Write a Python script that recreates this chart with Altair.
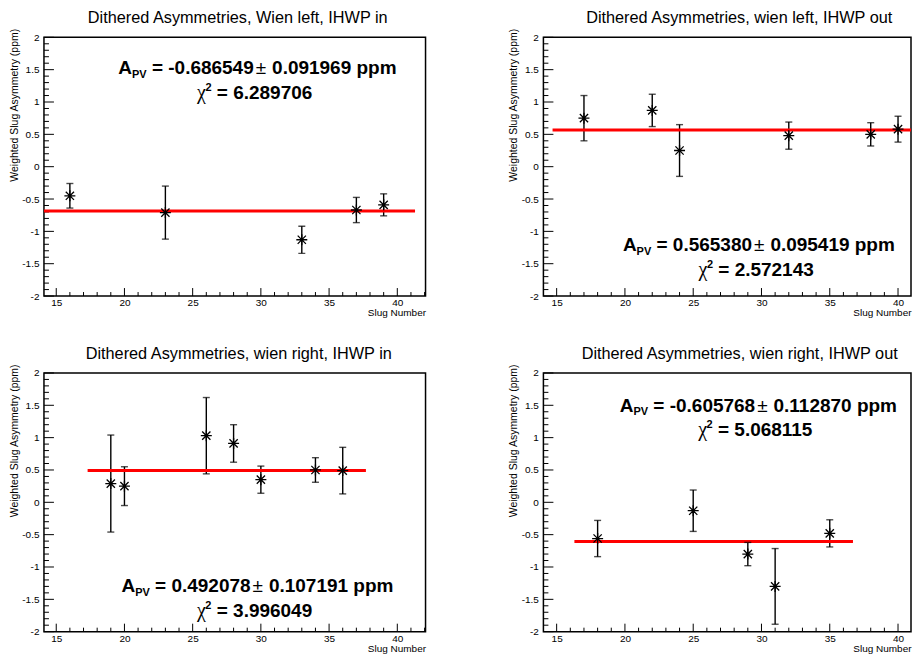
import altair as alt
import pandas as pd

# ---------------- data ----------------
TITLES = [
    "Dithered Asymmetries, Wien left, IHWP in",
    "Dithered Asymmetries, wien left, IHWP out",
    "Dithered Asymmetries, wien right, IHWP in",
    "Dithered Asymmetries, wien right, IHWP out",
]
SLUGS = [
    [16, 23, 33, 37, 39],
    [17, 22, 24, 32, 38, 40],
    [19, 20, 26, 28, 30, 34, 36],
    [18, 25, 29, 31, 35],
]
ASYM = [
    [-0.45, -0.71, -1.13, -0.67, -0.59],
    [0.75, 0.87, 0.25, 0.48, 0.50, 0.58],
    [0.29, 0.25, 1.03, 0.91, 0.35, 0.50, 0.49],
    [-0.56, -0.13, -0.80, -1.30, -0.48],
]
ERRS = [
    [0.19, 0.41, 0.21, 0.195, 0.17],
    [0.35, 0.25, 0.40, 0.21, 0.18, 0.20],
    [0.75, 0.30, 0.59, 0.29, 0.21, 0.19, 0.36],
    [0.28, 0.32, 0.18, 0.585, 0.21],
]
FIT_VALUE = [-0.686549, 0.565380, 0.492078, -0.605768]
FIT_ERROR = [0.091969, 0.095419, 0.107191, 0.112870]
CHI2 = [6.289706, 2.572143, 3.996049, 5.068115]
FIT_START = [13.7, 14.7, 17.3, 16.3]
FIT_END = [41.3, 42.3, 37.7, 36.7]

X_MAJOR = [15, 20, 25, 30, 35, 40]
X_MINOR = [16, 17, 18, 19, 21, 22, 23, 24, 26, 27, 28, 29, 31, 32, 33, 34, 36, 37, 38, 39, 41, 42]
Y_MAJOR = [-2, -1.5, -1, -0.5, 0, 0.5, 1, 1.5, 2]
Y_MINOR = [round(-2 + 0.1 * i, 1) for i in range(41) if i % 5 != 0]

X_TITLE = "Slug Number"
Y_TITLE = "Weighted Slug Asymmetry (ppm)"

# ---------------- layout / style ----------------
FONT = "Liberation Sans"
H = 259
WIDTHS = [382, 368, 382, 368]
XDOM = [[14.1, 42.07], [14.03, 40.95], [14.1, 42.07], [14.03, 40.95]]
TITLE_X = [194, 196, 195, 196.5]
# (line1 centre x, line1 baseline, line2 centre x, line2 baseline) relative to frame
ANN = [(213.7, 37.0, 211.0, 61.3), (215.7, 214.3, 213.0, 238.6),
       (213.7, 219.7, 210.9, 244.0), (215.7, 38.7, 212.7, 63.0)]
F_MAIN = 19
F_SMALL = 11

BOLD = {' ': 278, '=': 584, '-': 333, '.': 278, 'A': 722, 'P': 667, 'V': 667,
        'p': 611, 'm': 889}
for d in "0123456789":
    BOLD[d] = 556


def tw(s, size):
    return sum(BOLD[c] for c in s) * size / 1000.0


STAR = "M-1,0L1,0M0,-1L0,1M-0.75,-0.75L0.75,0.75M-0.75,0.75L0.75,-0.75"


def txt(s, x, y, size, weight="bold", font=FONT, align="left", baseline="alphabetic"):
    return alt.Chart(pd.DataFrame({"t": [s]})).mark_text(
        align=align, baseline=baseline, fontSize=size, fontWeight=weight,
        font=font, color="black"
    ).encode(text="t:N", x=alt.value(x), y=alt.value(y))


def panel(i):
    W = WIDTHS[i]
    xs = alt.Scale(domain=XDOM[i], nice=False, zero=False, clamp=True)
    ys = alt.Scale(domain=[-2, 2], nice=False, zero=False)
    xax = alt.Axis(
        values=X_MAJOR, ticks=False, domain=False, grid=False,
        labelFont=FONT, labelFontSize=10, labelColor="black", labelPadding=1.5,
        labelFlush=False, labelOverlap=False,
        title=X_TITLE, titleFont=FONT, titleFontSize=10, titleFontWeight="normal",
        titleColor="black", titleX=W, titleY=16.5, titleAlign="right",
        titleBaseline="middle")
    yax = alt.Axis(
        values=Y_MAJOR, labelExpr="'' + datum.value", ticks=False, domain=False,
        grid=False, labelFont=FONT, labelFontSize=10, labelColor="black",
        labelPadding=5, labelOverlap=False,
        title=Y_TITLE, titleFont=FONT, titleFontSize=10.5, titleFontWeight="normal",
        titleColor="black", titleAngle=270, titleX=-26.5, titleY=-9,
        titleAlign="right", titleBaseline="alphabetic")

    def X(f):
        return alt.X(f, scale=xs, axis=xax)

    def Y(f):
        return alt.Y(f, scale=ys, axis=yax)

    df = pd.DataFrame({"x": SLUGS[i], "y": ASYM[i], "e": ERRS[i]})
    base = alt.Chart(df).transform_calculate(
        lo="datum.y - datum.e", hi="datum.y + datum.e")

    xmaj = [v for v in X_MAJOR if XDOM[i][0] <= v <= XDOM[i][1]]
    xmin = [v for v in X_MINOR if XDOM[i][0] <= v <= XDOM[i][1]]

    layers = []
    layers.append(base.mark_rule(color="black", strokeWidth=1.4).encode(
        x=X("x:Q"), y=Y("lo:Q"), y2="hi:Q"))

    layers.append(alt.Chart(pd.DataFrame({"v": xmaj})).mark_rule(
        color="black", strokeWidth=1).encode(
        x=X("v:Q"), y=alt.value(H), y2=alt.value(H - 8)))
    layers.append(alt.Chart(pd.DataFrame({"v": xmin})).mark_rule(
        color="black", strokeWidth=1).encode(
        x=X("v:Q"), y=alt.value(H), y2=alt.value(H - 4)))
    layers.append(alt.Chart(pd.DataFrame({"v": Y_MAJOR})).mark_rule(
        color="black", strokeWidth=1).encode(
        y=Y("v:Q"), x=alt.value(0), x2=alt.value(10)))
    layers.append(alt.Chart(pd.DataFrame({"v": Y_MINOR})).mark_rule(
        color="black", strokeWidth=1).encode(
        y=Y("v:Q"), x=alt.value(0), x2=alt.value(5)))

    fit = pd.DataFrame({"x0": [FIT_START[i]], "x1": [FIT_END[i]], "y": [FIT_VALUE[i]]})
    layers.append(alt.Chart(fit).mark_rule(color="#ff0000", strokeWidth=3).encode(
        x=X("x0:Q"), x2="x1:Q", y=Y("y:Q")))

    layers.append(base.mark_tick(orient="horizontal", size=7, thickness=1.4,
                                 color="black").encode(x=X("x:Q"), y=Y("lo:Q")))
    layers.append(base.mark_tick(orient="horizontal", size=7, thickness=1.4,
                                 color="black").encode(x=X("x:Q"), y=Y("hi:Q")))
    layers.append(alt.Chart(df).mark_point(
        shape=STAR, size=121, filled=False, color="black", strokeWidth=1.3, opacity=1).encode(
        x=X("x:Q"), y=Y("y:Q")))

    # title
    layers.append(txt(TITLES[i], TITLE_X[i], -14.3, 16.3, weight="normal",
                      align="center", baseline="alphabetic"))

    # annotation line 1 (leading spaces are collapsed in SVG, so they are added as offsets)
    sp = tw(" ", F_MAIN)
    gap = 2.0
    cx1, b1, cx2, b2 = ANN[i]
    p_eq = "= %.6f" % FIT_VALUE[i]
    p_err = "%.6f ppm" % FIT_ERROR[i]
    w_pm = 0.584 * F_MAIN
    total = (tw("A", F_MAIN) + tw("PV", F_SMALL) + sp + tw(p_eq, F_MAIN) + gap
             + w_pm + sp + tw(p_err, F_MAIN))
    x = cx1 - total / 2
    layers.append(txt("A", x, b1, F_MAIN))
    x += tw("A", F_MAIN)
    layers.append(txt("PV", x, b1 + 3.5, F_SMALL))
    x += tw("PV", F_SMALL) + sp
    layers.append(txt(p_eq, x, b1, F_MAIN))
    x += tw(p_eq, F_MAIN) + gap
    layers.append(txt("\u00b1", x, b1, F_MAIN, weight="normal"))
    x += w_pm + sp
    layers.append(txt(p_err, x, b1, F_MAIN))

    # annotation line 2
    w_chi = 0.44 * F_MAIN
    p_c = "= %.6f" % CHI2[i]
    total2 = w_chi + tw("2", F_SMALL) + sp + tw(p_c, F_MAIN)
    x = cx2 - total2 / 2
    layers.append(txt("\u03c7", x, b2, F_MAIN + 1, weight="normal", font="Liberation Serif"))
    x += w_chi
    layers.append(txt("2", x, b2 - 8, F_SMALL))
    x += tw("2", F_SMALL) + sp
    layers.append(txt(p_c, x, b2, F_MAIN))

    return alt.layer(*layers).properties(width=W, height=H)


row1 = alt.hconcat(panel(0), panel(1), spacing=81)
row2 = alt.hconcat(panel(2), panel(3), spacing=81)
chart = alt.vconcat(row1, row2, spacing=25, padding=0).configure(
    font=FONT, background="white",
    view=alt.ViewConfig(stroke="black", strokeWidth=1.5),
)

chart.save("out.html", embed_options={"renderer": "svg", "actions": False})
